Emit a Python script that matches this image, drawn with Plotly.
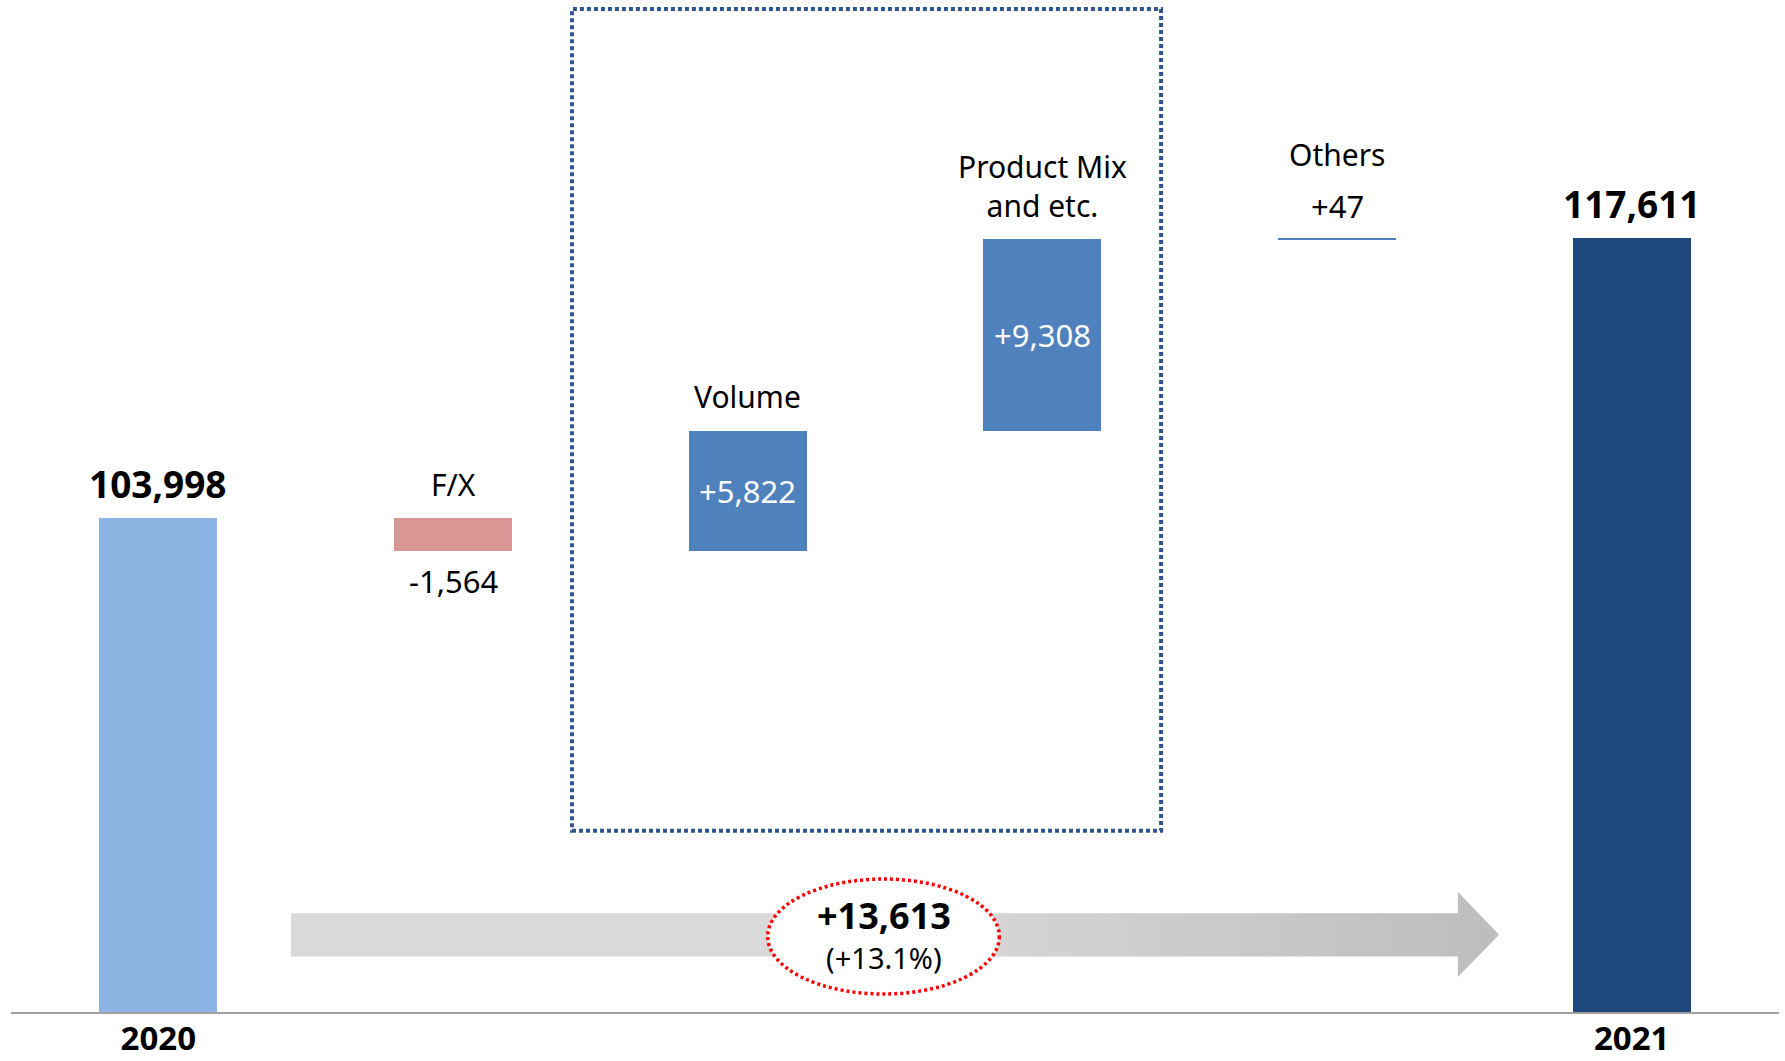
import plotly.graph_objects as go

# Operating revenue bridge, 2020 -> 2021
categories = ["2020", "F/X", "Volume", "Product Mix<br>and etc.", "Others", "2021"]
start_value = 103998
changes = [-1564, 5822, 9308, 47]
end_value = 117611
year_labels = ["2020", "2021"]

colors = ["#8EB4E3", "#D99694", "#4F81BD", "#4F81BD", "#4F81BD", "#1F497D"]
FONT = "Noto Sans"
Y_MIN, Y_MAX = 80000, 129200

# running totals for the floating bars
bases, heights = [0], [start_value]
running = start_value
for c in changes:
    lo = running + min(c, 0)
    bases.append(lo)
    heights.append(abs(c))
    running += c
bases.append(0)
heights.append(end_value)
tops = [b + h for b, h in zip(bases, heights)]
xs = list(range(len(categories)))

fig = go.Figure()

# growth arrow (horizontal gradient)
ax = [0.45, 4.41, 4.41, 4.55, 4.41, 4.41, 0.45, 0.45]
ay = [84800, 84800, 85850, 83760, 81700, 82700, 82700, 84800]
fig.add_trace(go.Scatter(
    x=ax, y=ay, mode="lines", fill="toself", line=dict(width=0),
    fillgradient=dict(type="horizontal",
                      colorscale=[[0, "#D9D9D9"], [0.5, "#D9D9D9"], [1, "#BDBDBD"]]),
    hoverinfo="skip", showlegend=False))

fig.add_trace(go.Bar(
    x=xs, y=heights, base=bases, width=0.4,
    marker=dict(color=colors, line=dict(width=0)),
    hoverinfo="skip", showlegend=False))

ann = []
def label(x, y, text, shift, size=30, bold=False, color="#000000"):
    ann.append(dict(x=x, y=y, xref="x", yref="y", text=f"<b>{text}</b>" if bold else text,
                    showarrow=False, yshift=shift, yanchor="middle", xanchor="center",
                    font=dict(family=FONT, size=size, color=color)))

fmt = lambda v, sign=True: (f"{v:+,}" if sign else f"{v:,}")

# totals
label(0, tops[0], fmt(start_value, False), 35, size=37, bold=True)
label(5, tops[5], fmt(end_value, False), 35, size=37, bold=True)
# F/X
label(1, tops[1], categories[1], 34)
label(1, bases[1], fmt(changes[0]), -30, size=31)
# Volume
label(2, tops[2], categories[2], 34)
label(2, bases[2] + heights[2] / 2, fmt(changes[1]), 0, size=31, color="#FFFFFF")
# Product mix
label(3, tops[3], categories[3], 53)
label(3, bases[3] + heights[3] / 2, fmt(changes[2]), 0, size=31, color="#FFFFFF")
# Others
label(4, tops[4], categories[4], 84)
label(4, tops[4], fmt(changes[3]), 32, size=31)

# total change inside the ellipse
delta = end_value - start_value
pct = delta / start_value * 100
ann.append(dict(x=0.4938, y=0.0958, xref="paper", yref="paper", text=f"<b>{delta:+,}</b>",
                showarrow=False, xanchor="center", yanchor="middle",
                font=dict(family=FONT, size=36, color="#000000")))
ann.append(dict(x=0.4938, y=0.0534, xref="paper", yref="paper", text=f"(+{pct:.1f}%)",
                showarrow=False, xanchor="center", yanchor="middle",
                font=dict(family=FONT, size=29, color="#000000")))

shapes = [
    # dotted group box around Volume / Product Mix
    dict(type="rect", xref="paper", yref="paper", x0=0.3173, x1=0.6505, y0=0.179, y1=0.991,
         line=dict(color="#2F5590", width=4, dash="4px,3px"), fillcolor="rgba(0,0,0,0)"),
    # ellipse highlighting the total change
    dict(type="circle", xref="paper", yref="paper", x0=0.428, x1=0.559, y0=0.0178, y1=0.1314,
         line=dict(color="#FF0000", width=3.5, dash="3px,3px"), fillcolor="#FFFFFF", layer="above"),
]

fig.update_layout(
    width=1785, height=1061,
    margin=dict(l=11, r=6, t=0, b=49),
    paper_bgcolor="#FFFFFF", plot_bgcolor="#FFFFFF",
    shapes=shapes, annotations=ann,
    xaxis=dict(range=[-0.5, 5.5], tickvals=[0, 5], ticktext=[f"<b>{t}</b>" for t in year_labels],
               tickfont=dict(family=FONT, size=33, color="#000000"), ticks="",
               ticklabelstandoff=-4, automargin=False,
               showline=True, linecolor="#A0A0A0", linewidth=2, showgrid=False, zeroline=False),
    yaxis=dict(range=[Y_MIN, Y_MAX], visible=False, showgrid=False, zeroline=False,
               automargin=False),
    bargap=0,
)

fig.write_html("out.html")
